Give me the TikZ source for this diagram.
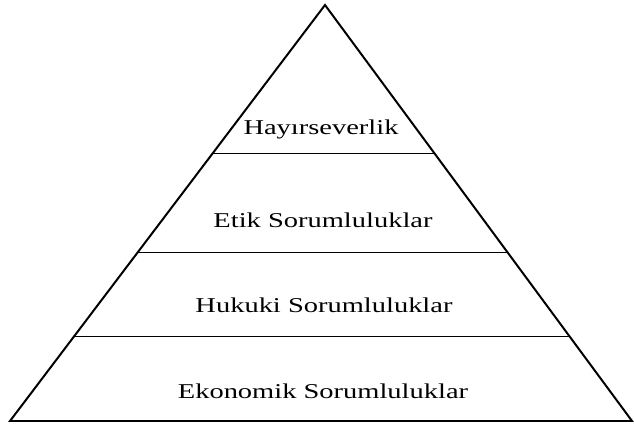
\documentclass[tikz,border=0pt]{standalone}
\usepackage{fontspec}
\setmainfont{Liberation Serif}
\usetikzlibrary{calc}

\begin{document}
\begin{tikzpicture}[x=0.03cm, y=-0.03cm,
        level/.style={anchor=base, font=\fontsize{18}{20}\selectfont, xscale=1.35},
        divider/.style={line width=0.8pt}]
        \useasboundingbox (0,0) rectangle (634,425);
        \coordinate (Top) at (325,5);
        \coordinate (Left) at (10,421);
        \coordinate (Right) at (632,421);

        % pyramid outline
        \draw[line width=1.7pt] (Left) -- (Top) -- (Right) -- cycle;

        % levels
        \draw[divider] ($(Top)!0.356!(Left)$) -- ($(Top)!0.356!(Right)$);
        \draw[divider] ($(Top)!0.594!(Left)$) -- ($(Top)!0.594!(Right)$);
        \draw[divider] ($(Top)!0.796!(Left)$) -- ($(Top)!0.796!(Right)$);

        \node[level] (Hayir) at (321,135) {Hayırseverlik};
        \node[level] (Etik) at (323,228) {Etik Sorumluluklar};
        \node[level] (Hukuki) at (324,313) {Hukuki Sorumluluklar};
        \node[level] (Ekonomik) at (323,398) {Ekonomik Sorumluluklar};
    \end{tikzpicture}
\end{document}
